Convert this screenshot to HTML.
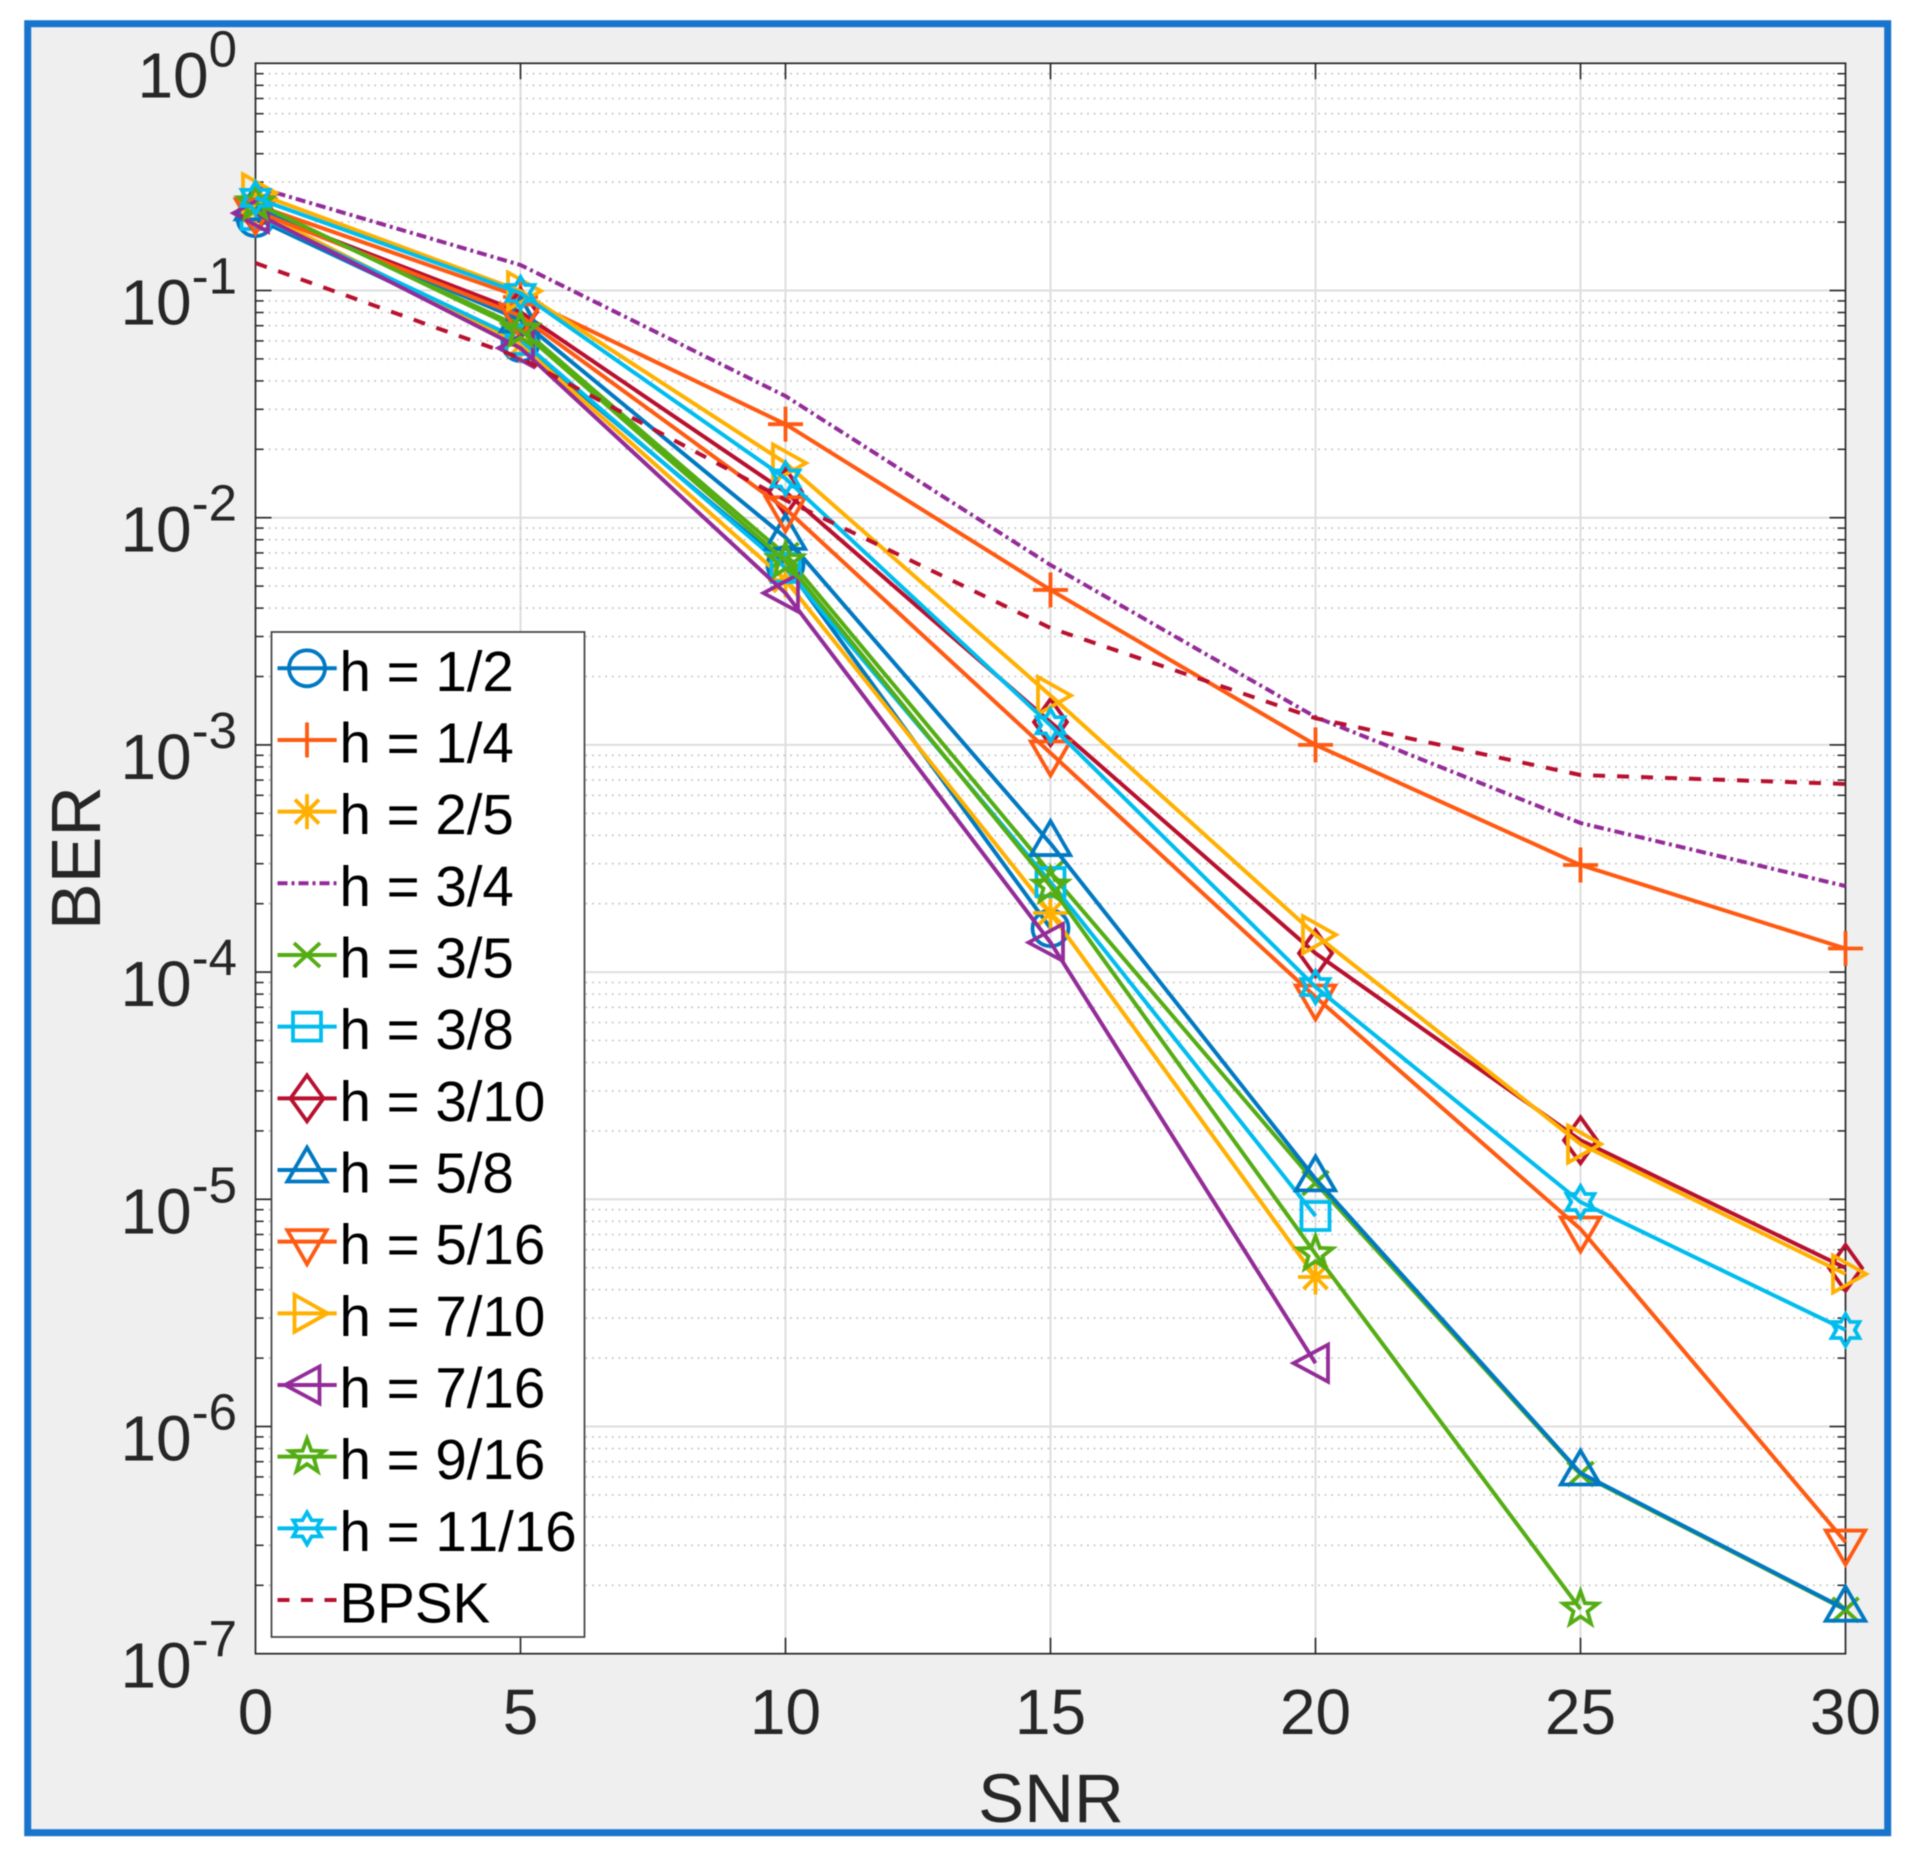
<!DOCTYPE html>
<html lang="en">
<head>
<meta charset="utf-8">
<title>BER vs SNR</title>
<style>
  html, body { margin: 0; padding: 0; background: #ffffff; }
  svg { display: block; font-family: "Liberation Sans", Arial, sans-serif; font-kerning: none; filter: blur(0.45px); }
</style>
</head>
<body>
<svg id="chart" xmlns="http://www.w3.org/2000/svg" width="1921" height="1855" viewBox="0 0 1921 1855">
  <rect x="27.7" y="23.7" width="1860" height="1809" fill="#efefef" stroke="#1874cd" stroke-width="7"/>
  <rect x="255.5" y="63.3" width="1590" height="1590.4" fill="#ffffff"/>
  <g id="grid"></g>
  <g id="ticks"></g>
  <rect x="255.5" y="63.3" width="1590" height="1590.4" fill="none" stroke="#262626" stroke-width="1.7"/>
  <g id="tick-labels" fill="#262626"></g>
  <text x="1051" y="1822" font-size="69" text-anchor="middle" fill="#262626">SNR</text>
  <text transform="translate(100 858) rotate(-90)" font-size="70" text-anchor="middle" fill="#262626">BER</text>
  <g id="series"></g>
  <g id="legend"></g>
</svg>
<script>
// Chart data
const snrTicks = [0, 5, 10, 15, 20, 25, 30];
const berExponents = [0, -1, -2, -3, -4, -5, -6, -7];
const minorMultipliers = [2, 3, 4, 5, 6, 7, 8, 9];

const berH1of2   = [0.208, 0.0587, 6.19e-3, 1.56e-4];
const berH1of4   = [0.238, 0.0936, 0.0258, 4.81e-3, 1.00e-3, 2.96e-4, 1.27e-4];
const berH2of5   = [0.226, 0.0576, 5.32e-3, 1.82e-4, 4.55e-6];
const berH3of4   = [0.286, 0.1295, 0.0343, 6.19e-3, 1.327e-3, 4.53e-4, 2.39e-4];
const berH3of5   = [0.238, 0.0691, 6.85e-3, 2.73e-4, 1.18e-5, 6.18e-7, 1.56e-7];
const berH3of8   = [0.215, 0.0606, 6.01e-3, 2.49e-4, 8.44e-6];
const berH3of10  = [0.226, 0.0804, 0.01297, 1.26e-3, 1.21e-4, 1.82e-5, 4.99e-6];
const berH5of8   = [0.231, 0.0742, 8.19e-3, 3.68e-4, 1.23e-5, 6.24e-7, 1.57e-7];
const berH5of16  = [0.224, 0.0772, 0.01095, 9.21e-4, 7.77e-5, 7.40e-6, 3.10e-7];
const berH7of10  = [0.269, 0.0995, 0.01741, 1.65e-3, 1.46e-4, 1.75e-5, 4.69e-6];
const berH7of16  = [0.219, 0.0558, 4.66e-3, 1.35e-4, 1.90e-6];
const berH9of16  = [0.243, 0.0670, 6.45e-3, 2.39e-4, 5.75e-6, 1.57e-7];
const berH11of16 = [0.2555, 0.0975, 0.01488, 1.22e-3, 8.60e-5, 9.73e-6, 2.66e-6];
const berBpsk    = [0.1321, 0.0505, 0.01196, 3.27e-3, 1.31e-3, 7.37e-4, 6.73e-4];

const seriesLabels = ['h = 1/2', 'h = 1/4', 'h = 2/5', 'h = 3/4', 'h = 3/5', 'h = 3/8', 'h = 3/10', 'h = 5/8', 'h = 5/16', 'h = 7/10', 'h = 7/16', 'h = 9/16', 'h = 11/16', 'BPSK'];
const seriesValues = [berH1of2, berH1of4, berH2of5, berH3of4, berH3of5, berH3of8, berH3of10, berH5of8, berH5of16, berH7of10, berH7of16, berH9of16, berH11of16, berBpsk];
const seriesColors = ['#0079c2', '#ff5a12', '#ffb000', '#932c98', '#55ad14', '#00bdee', '#b8102f', '#0079c2', '#ff5a12', '#ffb000', '#932c98', '#55ad14', '#00bdee', '#b8102f'];
const seriesMarkers = ['circle', 'plus', 'asterisk', 'none', 'cross', 'square', 'diamond', 'triangle-up', 'triangle-down', 'triangle-right', 'triangle-left', 'pentagram', 'hexagram', 'none'];
const seriesDashes = ['', '', '', '10 4 3 4', '', '', '', '', '', '', '', '', '', '12 12'];

// Axis functions
const plotLeft = 255.5, plotRight = 1845.5, plotTop = 63.3, plotBottom = 1653.7;
const xMin = 0, xMax = 30, decadeCount = 7;
function xScale(v) { return plotLeft + (v - xMin) / (xMax - xMin) * (plotRight - plotLeft); }
function yScale(v) { return plotTop + (-Math.log10(v)) / decadeCount * (plotBottom - plotTop); }

const SVG_NS = 'http://www.w3.org/2000/svg';
function make(tag, attrs, parent) {
  const node = document.createElementNS(SVG_NS, tag);
  for (const k in attrs) node.setAttribute(k, attrs[k]);
  parent.appendChild(node);
  return node;
}

const gridGroup = document.getElementById('grid');
const tickGroup = document.getElementById('ticks');
const labelGroup = document.getElementById('tick-labels');
const seriesGroup = document.getElementById('series');
const legendGroup = document.getElementById('legend');

// X gridlines, ticks, labels
snrTicks.forEach(function (t) {
  const x = xScale(t);
  if (t > xMin && t < xMax) {
    const g = make('line', { x1: x, x2: x, y1: plotTop, y2: plotBottom, stroke: '#dedede', 'stroke-width': 2 }, gridGroup);
    
    
    [[plotTop, plotTop + 16], [plotBottom, plotBottom - 16]].forEach(function (p) {
      const k = make('line', { x1: x, x2: x, y1: p[0], y2: p[1], stroke: '#262626', 'stroke-width': 1.6 }, tickGroup);
      
      
    });
  }
  const lab = make('text', { x: x, y: 1734, 'font-size': 64, 'text-anchor': 'middle' }, labelGroup);
  lab.textContent = String(t);
  
  
});

// Y gridlines, ticks, labels
berExponents.forEach(function (ex) {
  const y = yScale(Math.pow(10, ex));
  if (ex < 0 && ex > -decadeCount) {
    const g = make('line', { x1: plotLeft, x2: plotRight, y1: y, y2: y, stroke: '#dedede', 'stroke-width': 2 }, gridGroup);
    
    
    [[plotLeft, plotLeft + 16], [plotRight, plotRight - 16]].forEach(function (p) {
      const k = make('line', { x1: p[0], x2: p[1], y1: y, y2: y, stroke: '#262626', 'stroke-width': 1.6 }, tickGroup);
      
      
    });
  }
  if (ex > -decadeCount) {
    minorMultipliers.forEach(function (m) {
      const ym = yScale(m * Math.pow(10, ex - 1));
      const g = make('line', { x1: plotLeft, x2: plotRight, y1: ym, y2: ym, stroke: '#c0c0c0', 'stroke-width': 1.6, 'stroke-dasharray': '1.7 4.9' }, gridGroup);
      
      
      [[plotLeft, plotLeft + 8], [plotRight, plotRight - 8]].forEach(function (p) {
        const k = make('line', { x1: p[0], x2: p[1], y1: ym, y2: ym, stroke: '#262626', 'stroke-width': 1.5 }, tickGroup);
        
        
      });
    });
  }
  const lab = make('text', { x: 237, y: y + 34, 'font-size': 64, 'text-anchor': 'end' }, labelGroup);
  
  
  lab.appendChild(document.createTextNode('10'));
  const sup = make('tspan', { dy: -31, 'font-size': 51 }, lab);
  sup.textContent = String(ex);
});

// Marker shapes
function polygonPoints(cx, cy, pts) {
  return pts.map(function (p) { return (cx + p[0]) + ',' + (cy + p[1]); }).join(' ');
}
function starPoints(n, outer, inner) {
  const out = [];
  for (let i = 0; i < n * 2; i++) {
    const r = i % 2 === 0 ? outer : inner;
    const a = -Math.PI / 2 + i * Math.PI / n;
    out.push([r * Math.cos(a), r * Math.sin(a)]);
  }
  return out;
}
const markerPolygons = {
  'square': [[-14, -14], [14, -14], [14, 14], [-14, 14]],
  'diamond': [[0, -23], [16.5, 0], [0, 23], [-16.5, 0]],
  'triangle-up': [[0, -22.5], [19.7, 11.5], [-19.7, 11.5]],
  'triangle-down': [[0, 22.5], [19.7, -11.5], [-19.7, -11.5]],
  'triangle-right': [[20.5, 0], [-12.5, -18.5], [-12.5, 18.5]],
  'triangle-left': [[-22, 0], [12.5, -18.5], [12.5, 18.5]],
  'pentagram': starPoints(5, 18, 7.4),
  'hexagram': starPoints(6, 16, 9.3)
};
const markerSegments = {
  'plus': [[-17.5, 0, 17.5, 0], [0, -17.5, 0, 17.5]],
  'asterisk': [[-17.5, 0, 17.5, 0], [0, -17.5, 0, 17.5], [-12, -12, 12, 12], [-12, 12, 12, -12]],
  'cross': [[-13, -12, 13, 12], [-13, 12, 13, -12]]
};
function drawMarker(kind, cx, cy, color, parent) {
  const style = { fill: 'none', stroke: color, 'stroke-width': 3.8, 'stroke-linejoin': 'miter' };
  if (kind === 'none') return;
  const group = make('g', style, parent);
  
  
  if (kind === 'circle') {
    make('circle', { cx: cx, cy: cy, r: 18 }, group);
  } else if (markerPolygons[kind]) {
    make('polygon', { points: polygonPoints(cx, cy, markerPolygons[kind]) }, group);
  } else {
    markerSegments[kind].forEach(function (s) {
      make('line', { x1: cx + s[0], y1: cy + s[1], x2: cx + s[2], y2: cy + s[3] }, group);
    });
  }
}

// Series
seriesValues.forEach(function (values, i) {
  const color = seriesColors[i];
  const group = make('g', {}, seriesGroup);
  
  
  const pts = values.map(function (v, j) { return xScale(snrTicks[j]) + ',' + yScale(v); }).join(' ');
  const attrs = { points: pts, fill: 'none', stroke: color, 'stroke-width': 4, 'stroke-linejoin': 'round' };
  if (seriesDashes[i]) attrs['stroke-dasharray'] = seriesDashes[i];
  const line = make('polyline', attrs, group);
  
  
  values.forEach(function (v, j) {
    drawMarker(seriesMarkers[i], xScale(snrTicks[j]), yScale(v), color, group);
  });
});

// Legend
const legendBox = make('rect', { x: 271.5, y: 632, width: 313, height: 1005, fill: '#ffffff', stroke: '#404040', 'stroke-width': 1.7 }, legendGroup);


seriesLabels.forEach(function (label, i) {
  const cy = 668.3 + i * 71.67;
  const entry = make('g', {}, legendGroup);
  
  
  const attrs = { x1: 277.5, x2: 336.7, y1: cy, y2: cy, stroke: seriesColors[i], 'stroke-width': 4 };
  if (seriesDashes[i]) attrs['stroke-dasharray'] = i === 3 ? '10 4 3 4' : '12 11.5';
  const swatch = make('line', attrs, entry);
  
  
  drawMarker(seriesMarkers[i], 307, cy, seriesColors[i], entry);
  const text = make('text', { x: 339.5, y: cy + 22.5, 'font-size': 56.5, fill: '#000000' }, entry);
  text.textContent = label;
  
  
});
</script>
</body>
</html>
